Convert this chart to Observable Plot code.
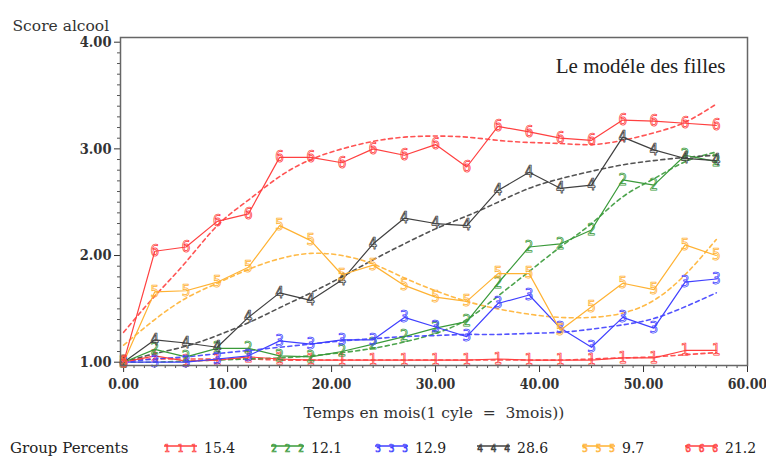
<!DOCTYPE html>
<html>
<head>
<meta charset="utf-8">
<script src="https://cdn.jsdelivr.net/npm/d3@7"></script>
<script src="https://cdn.jsdelivr.net/npm/@observablehq/plot@0.6"></script>
<style>
  body { margin: 0; background: #fff; width: 766px; height: 460px; overflow: hidden; }
  #chart svg { display: block; }
  #legend { position: relative; width: 766px; height: 35px; font-family: "DejaVu Serif", serif; font-size: 15px; color: #222; }
  #legend .item { position: absolute; top: 14px; height: 18px; line-height: 18px; white-space: nowrap; }
  #legend svg { position: absolute; top: 2px; left: 0; }
  #legend .num { font-size: 14px; }
</style>
</head>
<body>
<div id="chart"></div>
<div id="legend"></div>
<script>
// Measurement times (months), one cycle = 3 months
const times = [0, 3, 6, 9, 12, 15, 18, 21, 24, 27, 30, 33, 36, 39, 42, 45, 48, 51, 54, 57];

// Trajectory groups: marker symbol, legend percentage, colour
const groupSymbols = ["1", "2", "3", "4", "5", "6"];
const groupPercents = ["15.4", "12.1", "12.9", "28.6", "9.7", "21.2"];
const groupColors = ["#ff4040", "#3a9a3a", "#4040ff", "#404040", "#ffb233", "#ff4040"];

// Observed mean alcohol scores per group
const obs1 = [1.00, 1.06, 1.01, 1.02, 1.05, 1.03, 1.02, 1.02, 1.02, 1.02, 1.02, 1.02, 1.03, 1.02, 1.02, 1.02, 1.04, 1.04, 1.11, 1.11];
const obs2 = [1.00, 1.12, 1.05, 1.13, 1.13, 1.06, 1.05, 1.10, 1.17, 1.24, 1.32, 1.38, 1.74, 2.08, 2.11, 2.24, 2.71, 2.66, 2.94, 2.88];
const obs3 = [1.00, 1.00, 1.00, 1.03, 1.06, 1.20, 1.17, 1.21, 1.21, 1.42, 1.33, 1.24, 1.55, 1.63, 1.32, 1.14, 1.42, 1.32, 1.75, 1.78];
const obs4 = [1.00, 1.21, 1.18, 1.14, 1.42, 1.65, 1.58, 1.77, 2.11, 2.35, 2.30, 2.28, 2.61, 2.78, 2.63, 2.66, 3.11, 2.99, 2.91, 2.89];
const obs5 = [1.00, 1.66, 1.67, 1.75, 1.89, 2.28, 2.14, 1.82, 1.91, 1.72, 1.61, 1.57, 1.83, 1.83, 1.30, 1.52, 1.74, 1.68, 2.10, 2.00];
const obs6 = [1.00, 2.04, 2.08, 2.32, 2.39, 2.92, 2.92, 2.87, 3.00, 2.94, 3.04, 2.83, 3.21, 3.16, 3.10, 3.08, 3.27, 3.26, 3.24, 3.22];

// Estimated (model) trajectories per group, drawn dashed
const est1 = [1.02, 1.03, 1.03, 1.03, 1.03, 1.02, 1.02, 1.02, 1.02, 1.02, 1.02, 1.02, 1.02, 1.02, 1.02, 1.03, 1.04, 1.05, 1.07, 1.09];
const est2 = [1.00, 1.00, 1.01, 1.02, 1.03, 1.04, 1.06, 1.09, 1.13, 1.19, 1.27, 1.40, 1.62, 1.85, 2.08, 2.30, 2.55, 2.72, 2.88, 2.97];
const est3 = [1.00, 1.03, 1.05, 1.08, 1.11, 1.14, 1.17, 1.20, 1.22, 1.24, 1.25, 1.26, 1.26, 1.27, 1.28, 1.31, 1.35, 1.41, 1.52, 1.65];
const est4 = [1.00, 1.08, 1.15, 1.25, 1.37, 1.51, 1.65, 1.80, 1.96, 2.11, 2.25, 2.37, 2.50, 2.63, 2.72, 2.79, 2.85, 2.89, 2.92, 2.94];
const est5 = [1.16, 1.40, 1.60, 1.74, 1.87, 1.97, 2.02, 2.00, 1.92, 1.79, 1.67, 1.57, 1.50, 1.45, 1.42, 1.42, 1.46, 1.58, 1.82, 2.15];
const est6 = [1.28, 1.62, 1.94, 2.28, 2.52, 2.74, 2.90, 3.00, 3.07, 3.11, 3.12, 3.11, 3.08, 3.06, 3.05, 3.04, 3.08, 3.15, 3.25, 3.42];

// Axis ticks and texts
const yTicks = [1, 2, 3, 4];
const xTicks = [0, 10, 20, 30, 40, 50, 60];
const yLabel = "Score alcool";
const xLabel = "Temps en mois(1 cyle \u00a0=\u00a0 3mois))";
const chartTitle = "Le modéle des filles";
const legendTitle = "Group Percents";

const observed = [obs1, obs2, obs3, obs4, obs5, obs6];
const estimated = [est1, est2, est3, est4, est5, est6];

const toRows = (values) => values.map((v, i) => ({t: times[i], v}));

const seriesMarks = [];
groupSymbols.forEach((sym, g) => {
  seriesMarks.push(
    Plot.line(toRows(estimated[g]), {
      x: "t", y: "v", stroke: groupColors[g], strokeWidth: 1.6,
      strokeDasharray: "4,3.5", curve: "natural", strokeOpacity: 0.9
    })
  );
});
groupSymbols.forEach((sym, g) => {
  const color = groupColors[g];
  seriesMarks.push(
    Plot.line(toRows(observed[g]), {x: "t", y: "v", stroke: color, strokeWidth: 1.2}),
    Plot.text(toRows(observed[g]), {
      x: "t", y: "v", text: () => sym,
      fill: "none", stroke: color, strokeWidth: 0.75,
      fontSize: 15, fontFamily: "DejaVu Sans Condensed, DejaVu Sans, sans-serif"
    })
  );
});

const minorY = d3.range(10, 41).filter(i => i % 10 !== 0).map(i => i / 10);
const minorX = d3.range(0, 61).filter(i => i % 10 !== 0);
const tickFont = "DejaVu Serif Condensed, DejaVu Serif, serif";

const plot = Plot.plot({
  width: 766,
  height: 425,
  marginLeft: 120,
  marginRight: 19,
  marginTop: 37,
  marginBottom: 60,
  style: {fontFamily: "DejaVu Serif, serif", fontSize: "14px", color: "#333", background: "#fff"},
  x: {domain: [-0.3, 60]},
  y: {domain: [0.969, 4.044]},
  marks: [
    Plot.axisY(minorY, {tickSize: 3, tickFormat: () => "", label: null, color: "#555"}),
    Plot.axisY(yTicks, {
      tickSize: 6, tickPadding: 3, tickFormat: d => d.toFixed(2), label: null,
      fontFamily: tickFont, fontWeight: "bold", fontSize: 14.5, color: "#333"
    }),
    Plot.axisX(minorX, {tickSize: 3, tickFormat: () => "", label: null, color: "#555"}),
    Plot.axisX(xTicks, {
      tickSize: 7, tickPadding: 7, tickFormat: d => d.toFixed(2), label: null,
      fontFamily: tickFont, fontWeight: "bold", fontSize: 14, color: "#333"
    }),
    ...seriesMarks,
    Plot.frame({stroke: "#666", strokeWidth: 1.5}),
    Plot.text([chartTitle], {
      frameAnchor: "top-right", dx: -22, dy: 21, textAnchor: "end",
      fontFamily: "Liberation Serif, serif", fontSize: 21, fill: "#222"
    }),
    Plot.text([yLabel], {
      frameAnchor: "top-left", dx: -108, dy: -18, textAnchor: "start",
      fontFamily: "DejaVu Serif, serif", fontSize: 15.5, fill: "#333"
    }),
    Plot.text([xLabel], {
      frameAnchor: "bottom", dy: 52,
      fontFamily: "DejaVu Serif, serif", fontSize: 15.5, fill: "#333"
    })
  ]
});
document.getElementById("chart").appendChild(plot);

// Legend below the chart
const legend = d3.select("#legend");
legend.append("div").attr("class", "item").style("left", "10px").text(legendTitle);
const legendX = [163, 270, 374, 476, 581, 684];
groupSymbols.forEach((sym, g) => {
  const item = legend.append("div").attr("class", "item").style("left", legendX[g] + "px");
  const svg = item.append("svg").attr("width", 36).attr("height", 14);
  svg.append("line").attr("x1", 1).attr("x2", 34).attr("y1", 5).attr("y2", 5)
    .attr("stroke", groupColors[g]).attr("stroke-width", 1.3);
  [4, 17.5, 31].forEach(cx => {
    svg.append("text").attr("x", cx).attr("y", 11).attr("text-anchor", "middle")
      .attr("font-family", "DejaVu Sans Condensed, DejaVu Sans, sans-serif").attr("font-size", 10)
      .attr("fill", "none").attr("stroke", groupColors[g]).attr("stroke-width", 0.7)
      .text(sym);
  });
  item.append("span").attr("class", "num").style("margin-left", "41px").text(groupPercents[g]);
});
</script>
</body>
</html>
